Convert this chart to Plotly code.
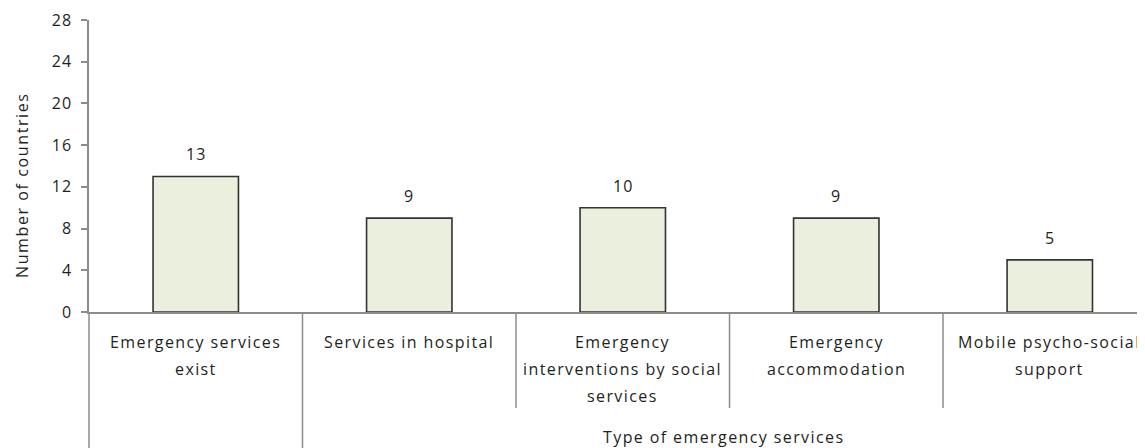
import plotly.graph_objects as go

categories = ["Emergency services exist", "Services in hospital",
              "Emergency interventions by social services",
              "Emergency accommodation", "Mobile psycho-social support"]
label_lines = [["Emergency services", "exist"],
               ["Services in hospital"],
               ["Emergency", "interventions by social", "services"],
               ["Emergency", "accommodation"],
               ["Mobile psycho-social", "support"]]
values = [13, 9, 10, 9, 5]
y_ticks = [0, 4, 8, 12, 16, 20, 24, 28]
group_label = "Type of emergency services"
y_title = "Number of countries"

# page body has an 8px margin, so the figure is offset by 8px
OFF = 8
W, H = 1145 - OFF, 448 - OFF
ML, MR, MT, MB = 89 - OFF, 0, 20 - OFF, 136
plot_h = H - MT - MB
x_range = [-0.5, 4.446]
FONT = "Open Sans"
TXT = "#231f20"
AX = "#8c8c8c"
FS = 16


def sp(t, ls=1.4):
    return f'<span style="letter-spacing:{ls}px">{t}</span>'


xs = list(range(len(categories)))

fig = go.Figure()
fig.add_trace(go.Bar(
    x=xs, y=values, width=0.4,
    marker=dict(color="#ebefde", line=dict(color="#333333", width=1.6)),
    hoverinfo="skip", showlegend=False,
))

ann = []
for x, v in zip(xs, values):
    ann.append(dict(x=x, y=v, xref="x", yref="y", text=sp(str(v), 1), showarrow=False,
                    yanchor="bottom", yshift=9, font=dict(size=FS, color=TXT, family=FONT)))
line_gap = 27
for x, lines in zip(xs, label_lines):
    for j, t in enumerate(lines):
        ann.append(dict(x=x, y=0, xref="x", yref="paper", text=sp(t), showarrow=False,
                        yanchor="middle", yshift=-(30 + j * line_gap),
                        font=dict(size=FS, color=TXT, family=FONT)))
ann.append(dict(x=(0.5 + x_range[1]) / 2, y=0, xref="x", yref="paper", text=sp(group_label),
                showarrow=False, yanchor="middle", yshift=-125,
                font=dict(size=FS, color=TXT, family=FONT)))
ann.append(dict(x=0, y=0.435, xref="paper", yref="paper", text=sp(y_title, 1.6), showarrow=False,
                textangle=-90, xanchor="center", yanchor="middle", xshift=-67,
                font=dict(size=FS, color=TXT, family=FONT)))

shapes = []
bottom = -(MB + OFF) / plot_h
mid = -96 / plot_h
shapes.append(dict(type="line", xref="paper", yref="paper", x0=0, x1=0, y0=0, y1=bottom,
                   line=dict(color=AX, width=1.5)))
for i in range(len(categories) - 1):
    xb = i + 0.5
    shapes.append(dict(type="line", xref="x", yref="paper", x0=xb, x1=xb, y0=0,
                       y1=bottom if i == 0 else mid, line=dict(color=AX, width=1.5)))

fig.update_layout(
    width=W, height=H,
    margin=dict(l=ML, r=MR, t=MT, b=MB, pad=0),
    plot_bgcolor="white", paper_bgcolor="white",
    font=dict(family=FONT, size=FS, color=TXT),
    annotations=ann, shapes=shapes,
    xaxis=dict(range=x_range, showticklabels=False, showgrid=False, zeroline=False,
               showline=True, linecolor=AX, linewidth=1.5, ticks=""),
    yaxis=dict(range=[0, 28], tickvals=y_ticks, ticktext=[sp(str(t), 1) for t in y_ticks],
               showgrid=False, zeroline=False,
               showline=True, linecolor=AX, linewidth=1.5, ticks="outside",
               ticklen=6, tickcolor=AX, tickwidth=1.5, ticklabelstandoff=6,
               tickfont=dict(size=FS, color=TXT, family=FONT)),
)
fig.write_html("out.html")
